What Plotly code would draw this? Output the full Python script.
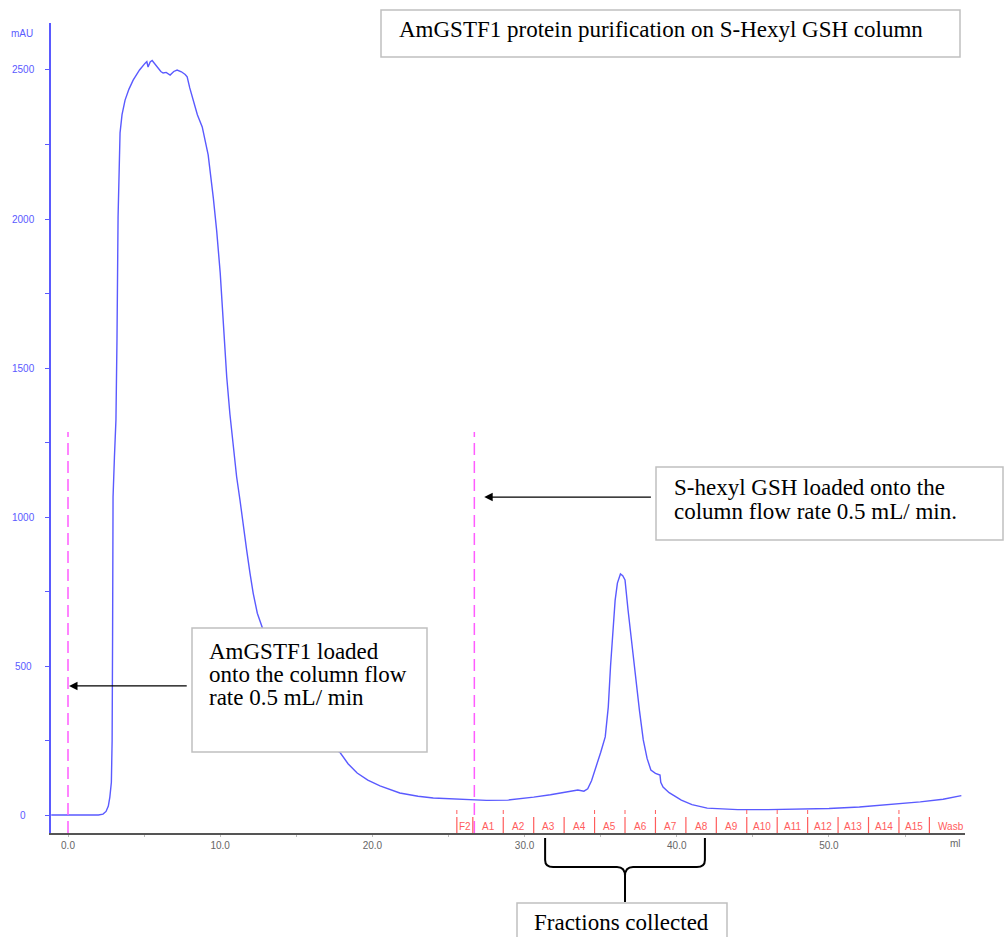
import plotly.graph_objects as go

# ---------------- data ----------------
volume_ml = [-1.1, 0.0, 1.0, 2.0, 2.3, 2.5, 2.65, 2.75, 2.85, 2.9, 2.93, 2.96, 3.05, 3.15,
             3.22, 3.29, 3.42, 3.55, 3.75, 4.0, 4.28, 4.7, 5.07, 5.18, 5.26, 5.4, 5.53,
             5.7, 5.9, 6.1, 6.25, 6.45, 6.71, 6.95, 7.17, 7.45, 7.7, 7.83, 8.0, 8.22,
             8.5, 8.82, 9.0, 9.21, 9.55, 9.77, 10.0, 10.2, 10.43, 10.64, 10.86, 11.08,
             11.3, 11.52, 11.74, 11.96, 12.17, 12.44, 12.73, 13.0, 13.5, 14.5, 15.5,
             16.5, 17.2, 17.9, 18.4, 19.0, 19.7, 20.5, 21.8, 23.0, 24.0, 25.6, 26.6,
             27.5, 28.9, 29.8, 30.6, 31.7, 32.8, 33.5, 33.9, 34.15, 34.4, 34.7, 35.0,
             35.3, 35.5, 35.65, 35.8, 35.95, 36.1, 36.3, 36.45, 36.6, 36.8, 37.05, 37.3,
             37.55, 37.8, 38.05, 38.3, 38.6, 38.9, 38.95, 39.1, 39.5, 40.3, 41.0, 42.0,
             43.0, 44.0, 46.0, 48.0, 50.0, 52.0, 54.0, 56.0, 57.5, 58.7]
absorbance_mau = [0, 0, 0, 0, 3, 12, 30, 60, 110, 250, 600, 1067, 1200, 1325,
                  1600, 2007, 2289, 2350, 2399, 2435, 2466, 2500, 2523, 2528, 2510, 2527, 2532,
                  2520, 2508, 2495, 2490, 2492, 2483, 2495, 2500, 2494, 2485, 2477, 2440, 2399,
                  2350, 2309, 2265, 2215, 2070, 1960, 1820, 1650, 1470, 1345, 1230, 1135,
                  1057, 967, 889, 811, 744, 677, 632, 595, 530, 420, 335,
                  268, 235, 208, 172, 141, 117, 98, 74, 63, 57, 53, 50,
                  49, 50, 54, 60, 68, 77, 84, 80, 88, 115, 160, 210,
                  262, 362, 500, 631, 720, 778, 809, 803, 789, 688, 570, 463,
                  350, 252, 190, 151, 140, 134, 110, 94, 75, 50, 35, 23,
                  20, 18, 18, 19, 22, 27, 35, 44, 53, 65]

y_tick_vals = [0, 500, 1000, 1500, 2000, 2500]
y_tick_text = ["0", "500", "1000", "1500", "2000", "2500"]
x_tick_vals = [0, 10, 20, 30, 40, 50]
x_tick_text = ["0.0", "10.0", "20.0", "30.0", "40.0", "50.0"]

fraction_labels = ["F2", "A1", "A2", "A3", "A4", "A5", "A6", "A7", "A8", "A9",
                   "A10", "A11", "A12", "A13", "A14", "A15", "Wasb"]
fraction_starts = [25.55, 26.6, 28.6, 30.6, 32.6, 34.6, 36.6, 38.6, 40.6, 42.6,
                   44.6, 46.6, 48.6, 50.6, 52.6, 54.6, 56.6]
fraction_ends = [26.6, 28.6, 30.6, 32.6, 34.6, 36.6, 38.6, 40.6, 42.6, 44.6,
                 46.6, 48.6, 50.6, 52.6, 54.6, 56.6, 59.5]
fraction_marks = [25.55, 28.6, 34.6, 36.6, 38.6, 44.6, 46.6, 48.6, 54.6]

inject_ml = [0.0, 26.7]
inject_top_mau = 1285

collected_from_ml = 31.35
collected_to_ml = 41.85

# ---------------- layout helpers ----------------
W, H = 1008, 937
L, R, T, B = 51, 43, 23, 104
PW, PH = W - L - R, H - T - B
X_RANGE = [-1.117, 58.94]
Y_RANGE = [-60.4, 2657.7]


def px(p):
    return (p - L) / PW


def py(p):
    return (H - B - p) / PH


BLUE = "#5a5aff"
RED = "#ff5c5c"
MAGENTA = "#ff5cff"
SERIF = "Liberation Serif, Times New Roman, serif"
SANS = "Liberation Sans, Arial, sans-serif"

fig = go.Figure()
fig.add_trace(go.Scatter(x=volume_ml, y=absorbance_mau, mode="lines",
                         line=dict(color=BLUE, width=1.4), hoverinfo="skip",
                         showlegend=False))

shapes = []
annotations = []

# injection markers (dashed magenta)
for v in inject_ml:
    shapes.append(dict(type="line", xref="x", yref="y", x0=v, x1=v,
                       y0=Y_RANGE[0], y1=inject_top_mau,
                       line=dict(color=MAGENTA, width=1.5, dash="12px,6px")))

# fraction separators and labels
for s in fraction_starts:
    shapes.append(dict(type="line", xref="x", yref="paper", x0=s, x1=s,
                       y0=0, y1=py(817), line=dict(color=RED, width=1.2)))
for m in fraction_marks:
    shapes.append(dict(type="line", xref="x", yref="paper", x0=m, x1=m,
                       y0=py(814), y1=py(810), line=dict(color=RED, width=1)))
for lab, s, e in zip(fraction_labels, fraction_starts, fraction_ends):
    annotations.append(dict(x=(s + e) / 2, y=py(826), xref="x", yref="paper",
                            text=lab, showarrow=False, xanchor="center", yanchor="middle",
                            font=dict(family=SANS, size=10, color=RED)))

# y tick labels (centred like the original)
for v, t in zip(y_tick_vals, y_tick_text):
    annotations.append(dict(x=px(23), y=v, xref="paper", yref="y", text=t,
                            showarrow=False, xanchor="center", yanchor="middle",
                            font=dict(family=SANS, size=10, color=BLUE)))
annotations.append(dict(x=px(22), y=py(33), xref="paper", yref="paper", text="mAU",
                        showarrow=False, xanchor="center", yanchor="middle",
                        font=dict(family=SANS, size=10, color=BLUE)))
annotations.append(dict(x=px(955), y=py(844), xref="paper", yref="paper", text="ml",
                        showarrow=False, xanchor="center", yanchor="middle",
                        font=dict(family=SANS, size=10, color="#666666")))

# text boxes
BOX_LINE = dict(color="#c0c0c0", width=1.5)
boxes = [(381, 10, 960, 57), (656, 467, 1003, 540), (192, 628, 427, 752), (517, 903, 727, 960)]
for x0, y0, x1, y1 in boxes:
    shapes.append(dict(type="rect", xref="paper", yref="paper",
                       x0=px(x0), x1=px(x1), y0=py(y0), y1=py(y1),
                       line=BOX_LINE, fillcolor="white", layer="above"))

text_lines = [
    ("AmGSTF1 protein purification on S-Hexyl GSH column", 397, 29),
    ("S-hexyl GSH loaded onto the", 672, 487),
    ("column flow rate 0.5 mL/ min.", 672, 512),
    ("AmGSTF1 loaded", 207, 651),
    ("onto the column flow", 207, 674),
    ("rate 0.5 mL/ min", 207, 697),
]
for t, x, y in text_lines:
    annotations.append(dict(x=px(x), y=py(y), xref="paper", yref="paper", text=t,
                            showarrow=False, xanchor="left", yanchor="middle",
                            font=dict(family=SERIF, size=23, color="black")))
annotations.append(dict(x=px(621), y=py(922), xref="paper", yref="paper",
                        text="Fractions collected", showarrow=False,
                        xanchor="center", yanchor="middle",
                        font=dict(family=SERIF, size=23, color="black")))

# arrows
annotations.append(dict(x=inject_ml[0] + 0.07, y=433, ax=7.9, ay=433, xref="x", yref="y",
                        axref="x", ayref="y", text="", showarrow=True, arrowhead=2,
                        arrowsize=1.3, arrowwidth=1.3, arrowcolor="black"))
annotations.append(dict(x=inject_ml[1] + 0.65, y=1067, ax=38.4, ay=1067, xref="x", yref="y",
                        axref="x", ayref="y", text="", showarrow=True, arrowhead=2,
                        arrowsize=1.3, arrowwidth=1.3, arrowcolor="black"))

# curly brace under collected fractions
xa, xb = collected_from_ml, collected_to_ml
xm = (xa + xb) / 2
sc = (X_RANGE[1] - X_RANGE[0]) / PW  # ml per pixel
brace = (f"M {xa},{py(838)} L {xa},{py(860)} Q {xa},{py(867)} {xa + 8 * sc},{py(867)} "
         f"L {xm - 8 * sc},{py(867)} Q {xm},{py(867)} {xm},{py(876)} L {xm},{py(902)} "
         f"M {xm},{py(876)} Q {xm},{py(867)} {xm + 8 * sc},{py(867)} "
         f"L {xb - 8 * sc},{py(867)} Q {xb},{py(867)} {xb},{py(860)} L {xb},{py(838)}")
shapes.append(dict(type="path", xref="x", yref="paper", path=brace,
                   line=dict(color="black", width=2)))

fig.update_layout(
    width=W, height=H,
    margin=dict(l=L, r=R, t=T, b=B),
    paper_bgcolor="white", plot_bgcolor="white",
    showlegend=False,
    shapes=shapes, annotations=annotations,
    xaxis=dict(range=X_RANGE, showline=True, linecolor="#555555", linewidth=1.5,
               tickvals=x_tick_vals, ticktext=x_tick_text, ticks="outside", ticklen=2,
               tickcolor="#bbbbbb", tickfont=dict(family=SANS, size=10, color="#666666"),
               minor=dict(dtick=5, ticks="outside", ticklen=2, tickcolor="#bbbbbb"),
               showgrid=False, zeroline=False, fixedrange=True),
    yaxis=dict(range=Y_RANGE, showline=True, linecolor=BLUE, linewidth=1.5,
               tick0=0, dtick=250, ticks="outside", ticklen=4, tickcolor=BLUE,
               showticklabels=False, showgrid=False, zeroline=False, fixedrange=True),
)

fig.write_html("out.html")
